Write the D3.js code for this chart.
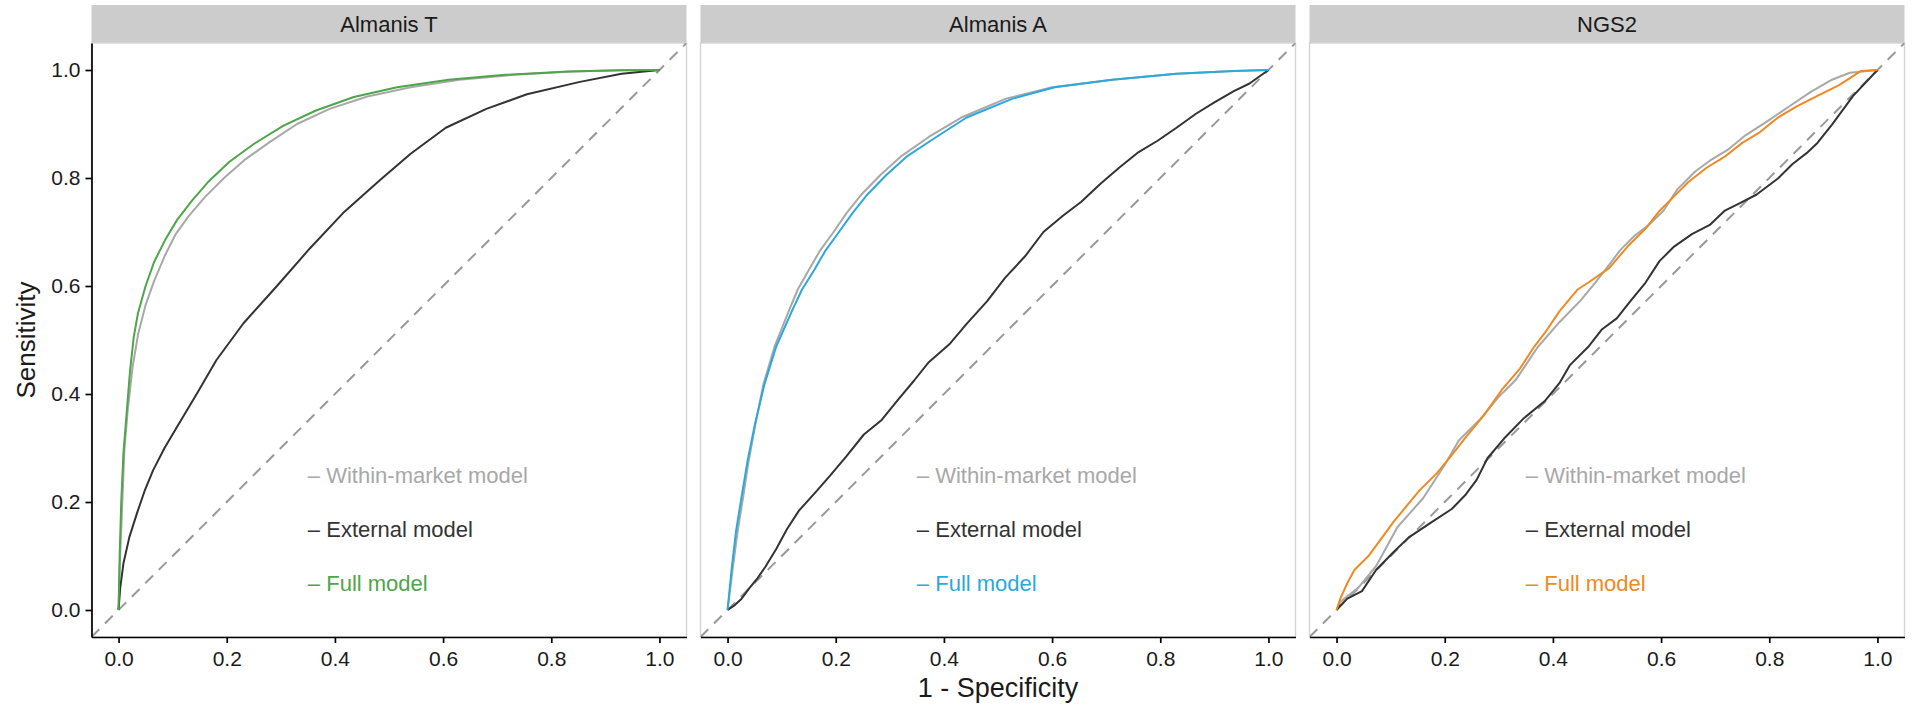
<!DOCTYPE html>
<html>
<head>
<meta charset="utf-8">
<script src="https://cdn.jsdelivr.net/npm/d3@7"></script>
<style>
  body { margin: 0; background: #fff; }
  text { font-family: "Liberation Sans", Arial, Helvetica, sans-serif; }
</style>
</head>
<body>
<div id="chart"></div>
<script>
// facets, legend labels, ticks
const panels = ["Almanis T", "Almanis A", "NGS2"];
const models = ["Within-market model", "External model", "Full model"];
const fullColors = ["#4fa54a", "#2ba8dc", "#ef8a22"];
const ticks = [0, 0.2, 0.4, 0.6, 0.8, 1.0];

// ROC curves: [1 - specificity, sensitivity]
const almTWithin = [[0,0],[0.003,0.1],[0.007,0.2],[0.011,0.3],[0.017,0.37],[0.026,0.45],[0.036,0.51],[0.05,0.565],[0.066,0.61],[0.085,0.655],[0.105,0.695],[0.13,0.73],[0.16,0.765],[0.195,0.8],[0.235,0.835],[0.28,0.867],[0.33,0.9],[0.39,0.928],[0.46,0.951],[0.54,0.968],[0.63,0.982],[0.73,0.991],[0.84,0.997],[0.93,0.9995],[1,1]];
const almTExternal = [[0,0],[0.003,0.04],[0.009,0.086],[0.02,0.135],[0.034,0.179],[0.048,0.22],[0.064,0.259],[0.085,0.3],[0.108,0.339],[0.145,0.401],[0.181,0.463],[0.231,0.531],[0.292,0.599],[0.354,0.67],[0.415,0.735],[0.483,0.796],[0.54,0.845],[0.605,0.893],[0.68,0.928],[0.755,0.955],[0.853,0.978],[0.93,0.993],[1,1]];
const almTFull = [[0,0],[0.002,0.1],[0.005,0.2],[0.009,0.29],[0.015,0.365],[0.021,0.44],[0.028,0.505],[0.036,0.55],[0.05,0.6],[0.066,0.645],[0.086,0.685],[0.108,0.722],[0.135,0.757],[0.165,0.792],[0.205,0.83],[0.25,0.863],[0.305,0.897],[0.365,0.925],[0.435,0.95],[0.515,0.968],[0.61,0.982],[0.715,0.991],[0.83,0.997],[0.93,0.9995],[1,1]];

const almAWithin = [[0,0],[0.01,0.08],[0.019,0.148],[0.029,0.21],[0.039,0.276],[0.052,0.346],[0.066,0.417],[0.087,0.488],[0.115,0.558],[0.13,0.594],[0.15,0.629],[0.17,0.664],[0.196,0.7],[0.22,0.735],[0.248,0.77],[0.283,0.806],[0.322,0.841],[0.372,0.876],[0.432,0.912],[0.515,0.947],[0.6,0.968],[0.711,0.982],[0.83,0.993],[0.936,0.998],[1,1]];
const almAExternal = [[0,0],[0.012,0.008],[0.026,0.021],[0.04,0.04],[0.054,0.057],[0.07,0.08],[0.09,0.113],[0.11,0.15],[0.132,0.184],[0.16,0.215],[0.188,0.247],[0.22,0.285],[0.252,0.325],[0.285,0.352],[0.315,0.389],[0.345,0.425],[0.372,0.459],[0.41,0.492],[0.442,0.53],[0.48,0.572],[0.513,0.615],[0.55,0.655],[0.584,0.7],[0.62,0.73],[0.654,0.756],[0.69,0.79],[0.725,0.82],[0.76,0.848],[0.795,0.869],[0.83,0.893],[0.866,0.919],[0.9,0.94],[0.936,0.961],[0.965,0.975],[1,1]];
const almAFull = [[0,0],[0.008,0.08],[0.016,0.148],[0.026,0.21],[0.037,0.276],[0.051,0.346],[0.068,0.417],[0.09,0.488],[0.121,0.558],[0.138,0.594],[0.16,0.629],[0.18,0.664],[0.206,0.7],[0.231,0.735],[0.259,0.77],[0.294,0.806],[0.333,0.841],[0.386,0.876],[0.442,0.912],[0.527,0.947],[0.605,0.968],[0.711,0.982],[0.83,0.993],[0.936,0.998],[1,1]];

const ngsWithin = [[0,0],[0.007,0.015],[0.04,0.041],[0.073,0.081],[0.113,0.154],[0.16,0.207],[0.199,0.267],[0.226,0.314],[0.266,0.354],[0.299,0.394],[0.332,0.427],[0.372,0.487],[0.412,0.533],[0.451,0.573],[0.478,0.606],[0.504,0.639],[0.524,0.666],[0.551,0.693],[0.577,0.713],[0.604,0.739],[0.63,0.779],[0.663,0.812],[0.69,0.832],[0.723,0.852],[0.756,0.879],[0.796,0.905],[0.836,0.932],[0.876,0.959],[0.916,0.982],[0.949,0.995],[1,1]];
const ngsExternal = [[0,0],[0.007,0.008],[0.02,0.021],[0.047,0.035],[0.073,0.074],[0.106,0.108],[0.133,0.134],[0.173,0.161],[0.213,0.187],[0.239,0.214],[0.259,0.241],[0.279,0.281],[0.312,0.32],[0.345,0.354],[0.385,0.387],[0.412,0.42],[0.431,0.453],[0.465,0.487],[0.491,0.52],[0.518,0.54],[0.544,0.573],[0.571,0.606],[0.597,0.646],[0.624,0.673],[0.657,0.696],[0.69,0.713],[0.717,0.739],[0.743,0.752],[0.776,0.769],[0.816,0.799],[0.843,0.826],[0.869,0.846],[0.889,0.865],[0.916,0.899],[0.955,0.952],[1,1]];
const ngsFull = [[0,0],[0.007,0.021],[0.02,0.05],[0.033,0.074],[0.06,0.101],[0.106,0.164],[0.153,0.221],[0.186,0.254],[0.213,0.287],[0.239,0.32],[0.272,0.36],[0.305,0.407],[0.339,0.447],[0.365,0.487],[0.385,0.513],[0.412,0.553],[0.445,0.593],[0.465,0.606],[0.504,0.633],[0.538,0.673],[0.571,0.706],[0.597,0.739],[0.624,0.766],[0.65,0.792],[0.684,0.819],[0.717,0.839],[0.75,0.865],[0.783,0.885],[0.816,0.912],[0.85,0.932],[0.889,0.952],[0.929,0.972],[0.969,0.998],[1,1]];

const curves = [
  [almTWithin, almTExternal, almTFull],
  [almAWithin, almAExternal, almAFull],
  [ngsWithin, ngsExternal, ngsFull]
];

const width = 1917;
const height = 709;
const panelW = 595;
const panelTop = 43;
const panelBottom = 637;
const firstLeft = 91.5;
const gap = 14;
const stripTop = 5;

const svg = d3.select("#chart")
  .append("svg")
  .attr("width", width)
  .attr("height", height);

const y = d3.scaleLinear()
  .domain([-0.05, 1.05])
  .range([panelBottom, panelTop]);

const line = d3.line();

panels.forEach((name, i) => {
  const left = firstLeft + i * (panelW + gap);
  const x = d3.scaleLinear()
    .domain([-0.05, 1.05])
    .range([left, left + panelW]);

  const g = svg.append("g");

  // strip
  g.append("rect")
    .attr("x", left)
    .attr("y", stripTop)
    .attr("width", panelW)
    .attr("height", panelTop - stripTop)
    .attr("fill", "#cccccc");

  g.append("text")
    .attr("x", left + panelW / 2)
    .attr("y", (stripTop + panelTop) / 2)
    .attr("dy", "0.36em")
    .attr("text-anchor", "middle")
    .attr("font-size", 22)
    .attr("fill", "#1a1a1a")
    .text(name);

  // panel border
  g.append("rect")
    .attr("x", left)
    .attr("y", panelTop)
    .attr("width", panelW)
    .attr("height", panelBottom - panelTop)
    .attr("fill", "none")
    .attr("stroke", "#d4d4d4")
    .attr("stroke-width", 1.4);

  const clipId = "clip" + i;
  svg.append("clipPath")
    .attr("id", clipId)
    .append("rect")
    .attr("x", left)
    .attr("y", panelTop)
    .attr("width", panelW)
    .attr("height", panelBottom - panelTop);

  const plot = g.append("g").attr("clip-path", `url(#${clipId})`);

  plot.append("line")
    .attr("x1", x(-0.05))
    .attr("y1", y(-0.05))
    .attr("x2", x(1.05))
    .attr("y2", y(1.05))
    .attr("stroke", "#999999")
    .attr("stroke-width", 2)
    .attr("stroke-dasharray", "11,8");

  const colors = ["#a8a8a8", "#333333", fullColors[i]];

  curves[i].forEach((pts, k) => {
    plot.append("path")
      .attr("d", line.x(d => x(d[0])).y(d => y(d[1]))(pts))
      .attr("fill", "none")
      .attr("stroke", colors[k])
      .attr("stroke-width", 2)
      .attr("stroke-linejoin", "round");
  });

  // legend text inside the panel
  models.forEach((m, k) => {
    g.append("text")
      .attr("x", x(0.35))
      .attr("y", y(0.25 - k * 0.1))
      .attr("dy", "0.35em")
      .attr("font-size", 22)
      .attr("fill", colors[k])
      .text("\u2013 " + m);
  });

  // x axis
  const xAxis = g.append("g")
    .attr("transform", `translate(0,${panelBottom})`)
    .call(d3.axisBottom(x)
      .tickValues(ticks)
      .tickFormat(d3.format(".1f"))
      .tickSize(6)
      .tickSizeOuter(0)
      .tickPadding(8));
  xAxis.select(".domain").attr("stroke", "#000").attr("stroke-width", 1.7);
  xAxis.selectAll(".tick line").attr("stroke", "#000").attr("stroke-width", 1.7);
  xAxis.selectAll(".tick text")
    .attr("font-size", 21)
    .attr("font-family", "Liberation Sans, Arial, sans-serif")
    .attr("fill", "#1a1a1a");

  if (i === 0) {
    const yAxis = g.append("g")
      .attr("transform", `translate(${left},0)`)
      .call(d3.axisLeft(y)
        .tickValues(ticks)
        .tickFormat(d3.format(".1f"))
        .tickSize(6)
        .tickSizeOuter(0)
        .tickPadding(5));
    yAxis.select(".domain").attr("stroke", "#000").attr("stroke-width", 1.7);
    yAxis.selectAll(".tick line").attr("stroke", "#000").attr("stroke-width", 1.7);
    yAxis.selectAll(".tick text")
      .attr("font-size", 21)
      .attr("font-family", "Liberation Sans, Arial, sans-serif")
      .attr("fill", "#1a1a1a");
  }
});

// axis titles
svg.append("text")
  .attr("x", firstLeft + (panelW + gap) + panelW / 2)
  .attr("y", 697)
  .attr("text-anchor", "middle")
  .attr("font-size", 27)
  .attr("fill", "#1a1a1a")
  .text("1 - Specificity");

svg.append("text")
  .attr("transform", `translate(35,${(panelTop + panelBottom) / 2}) rotate(-90)`)
  .attr("text-anchor", "middle")
  .attr("font-size", 26)
  .attr("fill", "#1a1a1a")
  .text("Sensitivity");
</script>
</body>
</html>
